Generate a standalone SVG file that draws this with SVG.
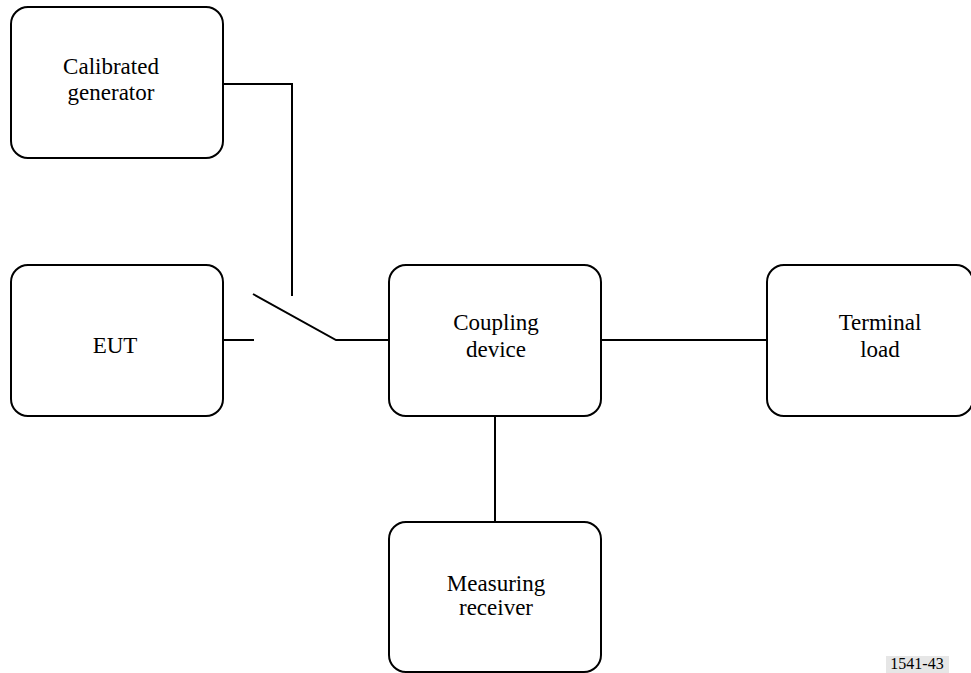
<svg xmlns="http://www.w3.org/2000/svg" width="971" height="673" viewBox="0 0 971 673">
<style>
.box{fill:#fff;stroke:#000;stroke-width:2}
.ln{fill:none;stroke:#000;stroke-width:2}
text{font-family:"Liberation Serif","Times New Roman",serif;font-size:23px;fill:#000;text-anchor:middle}
.tag{font-size:16px}
</style>
<rect width="971" height="673" fill="#fff"/>
<g id="connectors">
<polyline class="ln" points="223,84 292,84 292,296"/>
<line class="ln" x1="223" y1="340" x2="254" y2="340"/>
<polyline class="ln" points="253,294 336,340 389,340"/>
<line class="ln" x1="601" y1="340" x2="767" y2="340"/>
<line class="ln" x1="495" y1="416" x2="495" y2="522"/>
</g>
<g id="generator">
<rect class="box" x="11" y="7" width="212" height="151" rx="17"/>
<text x="111" y="74">Calibrated</text>
<text x="111" y="100">generator</text>
</g>
<g id="eut">
<rect class="box" x="11" y="265" width="212" height="151" rx="17"/>
<text x="115" y="353">EUT</text>
</g>
<g id="coupling">
<rect class="box" x="389" y="265" width="212" height="151" rx="17"/>
<text x="496" y="330">Coupling</text>
<text x="496" y="357">device</text>
</g>
<g id="terminal">
<rect class="box" x="767" y="265" width="206" height="151" rx="17"/>
<text x="880" y="330">Terminal</text>
<text x="880" y="357">load</text>
</g>
<g id="receiver">
<rect class="box" x="389" y="522" width="212" height="150" rx="17"/>
<text x="496" y="591">Measuring</text>
<text x="496" y="615">receiver</text>
</g>
<g id="tag">
<rect x="886" y="656" width="63" height="17" fill="#e6e6e6"/>
<text class="tag" x="917" y="669">1541-43</text>
</g>
</svg>
